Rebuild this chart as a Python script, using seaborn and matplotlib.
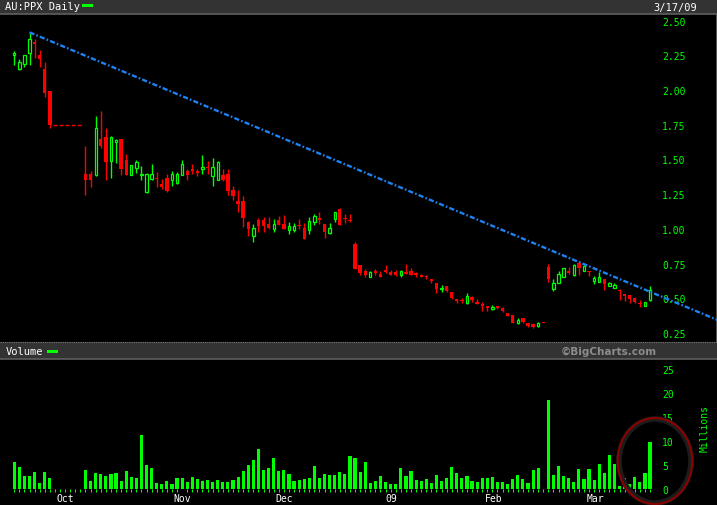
import numpy as np
import pandas as pd
import matplotlib
matplotlib.use("Agg")
import matplotlib.pyplot as plt
import seaborn as sns
from matplotlib.patches import Rectangle, Ellipse
from matplotlib.lines import Line2D

NaN = float("nan")

# ---------------- data ----------------
opens = [2.25, 2.15, 2.185, 2.27, 2.35, 2.25, 2.15, 1.99,
         NaN, NaN, NaN, NaN, NaN, NaN,
         1.395, 1.395, 1.39, 1.645, 1.66, 1.49, 1.625, 1.65, 1.495, 1.39,
         1.44, 1.385, 1.265, 1.36, 1.37, 1.32, 1.365, 1.35, 1.33, 1.39,
         1.42, 1.435, 1.41, 1.43, 1.445, 1.38, 1.355, 1.39, 1.395, 1.28,
         1.20, 1.20, 1.05, 0.95, 1.065, 1.065, 1.035, 1.00, 1.065, 1.035,
         0.995, 0.995, 1.03, 1.01, 0.995, 1.05, 1.08, 1.035, 0.97, 1.07,
         1.145, 1.08, 1.06, 0.89, 0.74, 0.70, 0.655, 0.69, 0.675, 0.705,
         0.69, 0.69, 0.67, 0.69, 0.70, 0.685, 0.665, 0.655, 0.64, 0.61,
         0.565, 0.59, 0.543, 0.495, 0.488, 0.467, 0.512, 0.476, 0.46, 0.437,
         0.425, 0.444, 0.432, 0.395, 0.38, 0.322, 0.358, 0.322, 0.317, 0.30,
         0.32, 0.728, 0.567, 0.61, 0.652, 0.695, 0.668, 0.752, 0.70, 0.697,
         0.628, 0.62, 0.64, 0.587, 0.573, 0.562, 0.526, 0.524, 0.50, 0.466,
         0.447, 0.49]
highs = [2.28, 2.225, 2.255, 2.41, 2.37, 2.29, 2.20, 1.995,
         NaN, NaN, NaN, NaN, NaN, NaN,
         1.60, 1.42, 1.81, 1.85, 1.73, 1.67, 1.645, 1.65, 1.54, 1.46,
         1.50, 1.455, 1.40, 1.47, 1.41, 1.36, 1.395, 1.42, 1.41, 1.495,
         1.43, 1.465, 1.43, 1.53, 1.49, 1.51, 1.49, 1.435, 1.43, 1.31,
         1.28, 1.235, 1.06, 1.035, 1.075, 1.085, 1.085, 1.07, 1.09, 1.10,
         1.05, 1.045, 1.07, 1.045, 1.085, 1.11, 1.12, 1.035, 1.045, 1.125,
         1.15, 1.11, 1.105, 0.905, 0.74, 0.71, 0.695, 0.71, 0.70, 0.74,
         0.705, 0.705, 0.705, 0.745, 0.72, 0.69, 0.675, 0.67, 0.64, 0.61,
         0.596, 0.59, 0.543, 0.495, 0.502, 0.538, 0.52, 0.495, 0.473, 0.437,
         0.452, 0.444, 0.44, 0.395, 0.38, 0.356, 0.358, 0.322, 0.322, 0.331,
         0.32, 0.747, 0.64, 0.697, 0.72, 0.723, 0.747, 0.764, 0.74, 0.697,
         0.658, 0.692, 0.64, 0.615, 0.608, 0.567, 0.526, 0.524, 0.507, 0.488,
         0.471, 0.591]
lows = [2.18, 2.145, 2.17, 2.18, 2.23, 2.17, 1.95, 1.725,
        NaN, NaN, NaN, NaN, NaN, NaN,
        1.245, 1.305, 1.38, 1.58, 1.35, 1.365, 1.475, 1.39, 1.39, 1.39,
        1.40, 1.35, 1.26, 1.35, 1.30, 1.29, 1.265, 1.31, 1.325, 1.385,
        1.35, 1.395, 1.38, 1.395, 1.395, 1.31, 1.355, 1.345, 1.245, 1.21,
        1.12, 1.015, 0.95, 0.905, 0.98, 0.98, 1.00, 0.975, 1.03, 1.00,
        0.965, 0.975, 1.00, 0.925, 0.965, 1.025, 1.035, 0.935, 0.96, 1.05,
        1.03, 1.045, 1.05, 0.71, 0.67, 0.65, 0.655, 0.67, 0.655, 0.685,
        0.67, 0.66, 0.655, 0.675, 0.67, 0.655, 0.65, 0.64, 0.61, 0.54,
        0.543, 0.543, 0.495, 0.466, 0.466, 0.457, 0.473, 0.459, 0.41, 0.41,
        0.416, 0.423, 0.40, 0.375, 0.323, 0.313, 0.323, 0.293, 0.284, 0.293,
        0.32, 0.62, 0.553, 0.61, 0.65, 0.675, 0.663, 0.67, 0.70, 0.658,
        0.60, 0.62, 0.562, 0.586, 0.572, 0.49, 0.483, 0.466, 0.466, 0.44,
        0.447, 0.483]
closes = [2.265, 2.20, 2.25, 2.37, 2.335, 2.225, 1.98, 1.745,
          NaN, NaN, NaN, NaN, NaN, NaN,
          1.355, 1.35, 1.725, 1.595, 1.48, 1.665, 1.64, 1.435, 1.39, 1.46,
          1.48, 1.395, 1.395, 1.395, 1.36, 1.30, 1.275, 1.395, 1.395, 1.465,
          1.39, 1.42, 1.405, 1.445, 1.44, 1.445, 1.485, 1.35, 1.275, 1.235,
          1.18, 1.08, 1.00, 1.005, 1.02, 1.02, 1.01, 1.035, 1.03, 1.00,
          1.02, 1.02, 1.02, 0.93, 1.055, 1.09, 1.065, 0.98, 1.005, 1.12,
          1.03, 1.07, 1.055, 0.71, 0.685, 0.67, 0.69, 0.685, 0.655, 0.69,
          0.67, 0.665, 0.695, 0.675, 0.67, 0.665, 0.65, 0.65, 0.627, 0.567,
          0.572, 0.555, 0.503, 0.477, 0.48, 0.517, 0.488, 0.46, 0.445, 0.433,
          0.44, 0.43, 0.405, 0.375, 0.325, 0.346, 0.328, 0.30, 0.295, 0.324,
          0.32, 0.64, 0.61, 0.675, 0.715, 0.683, 0.74, 0.718, 0.735, 0.688,
          0.646, 0.656, 0.603, 0.608, 0.596, 0.55, 0.52, 0.495, 0.471, 0.46,
          0.471, 0.56]
volumes = [5.6, 4.6, 2.7, 2.7, 3.5, 1.25, 3.5, 2.3,
           0, 0, 0, 0, 0, 0,
           4.0, 1.7, 3.3, 3.1, 2.7, 3.1, 3.3, 1.7, 3.75, 2.5,
           2.3, 11.25, 5.0, 4.4, 1.25, 1.05, 1.7, 1.05, 2.3, 2.3,
           1.45, 2.5, 2.1, 1.7, 1.9, 1.45, 1.9, 1.45, 1.45, 1.9,
           2.5, 3.75, 5.0, 6.0, 8.3, 4.0, 4.4, 6.5, 3.75, 4.0,
           3.1, 1.7, 1.9, 2.1, 2.3, 4.8, 2.3, 3.1, 2.9, 2.9,
           3.5, 3.1, 6.9, 6.5, 3.5, 5.6, 1.25, 1.7, 2.7, 1.45,
           1.0, 1.0, 4.4, 2.7, 3.75, 1.9, 1.7, 2.1, 1.25, 2.9,
           1.7, 2.3, 4.6, 3.3, 2.3, 2.7, 1.7, 1.45, 2.3, 2.3,
           2.5, 1.45, 1.45, 1.0, 2.1, 2.9, 2.1, 1.25, 4.0, 4.4,
           0, 18.5, 2.9, 4.8, 2.7, 2.3, 1.45, 4.2, 2.1, 4.2,
           1.9, 5.2, 3.3, 7.1, 5.2, 0.6, 2.3, 1.0, 2.5, 1.45,
           3.3, 9.8]

month_labels = ["Oct", "Nov", "Dec", "09", "Feb", "Mar"]
month_pos = [10.07, 33.0, 53.1, 74.1, 94.2, 114.3]
price_ticks = [0.25, 0.50, 0.75, 1.00, 1.25, 1.50, 1.75, 2.00, 2.25, 2.50]
volume_ticks = [0, 5, 10, 15, 20, 25]
trend_x = [3, 140]
trend_y = [2.416, 0.317]
title = "AU:PPX Daily"
last_date = "3/17/09"

# ---------------- style ----------------
GREEN = "#00ff00"
RED = "#ff0000"
BLUE = "#1e82f0"
W, H = 717, 506

sns.set_theme(style="dark", rc={"axes.facecolor": "black",
                                "figure.facecolor": "black",
                                "savefig.facecolor": "black"})
plt.rcParams["font.family"] = ["DejaVu Sans Mono", "DejaVu Sans"]

df = pd.DataFrame(dict(day=np.arange(len(opens)), open=opens, high=highs,
                       low=lows, close=closes, volume=volumes))

fig = plt.figure(figsize=(W / 100, H / 100), dpi=100)


def fy(ypix):
    return 1 - ypix / H


axp = fig.add_axes([0, fy(342), 1, (342 - 16) / H])
axv = fig.add_axes([0, fy(490), 1, (490 - 360) / H])

x_lo, x_hi = -2.81, 138.16

# ---------------- price panel ----------------
valid = df.dropna(subset=["open"])
up = valid[valid["close"] > valid["open"]]
dn = valid[valid["close"] <= valid["open"]]
MINH = 0.009

axp.vlines(up["day"], up["low"], up["high"], color=GREEN, lw=1.0, zorder=2)
axp.vlines(dn["day"], dn["low"], dn["high"], color=RED, lw=1.0, zorder=2)
axp.bar(up["day"], np.maximum(up["close"] - up["open"], MINH), bottom=up["open"],
        width=0.46, facecolor="black", edgecolor=GREEN, linewidth=0.9, zorder=3)
axp.bar(dn["day"], np.maximum(dn["open"] - dn["close"], MINH), bottom=dn["close"],
        width=0.66, color=RED, linewidth=0, zorder=3)

# trading halt: dashed at last close
halt = df[df["open"].isna()]["day"]
if len(halt):
    prev_close = df.loc[halt.min() - 1, "close"]
    axp.hlines(prev_close, halt.min() - 0.4, halt.max() + 0.4, colors=RED,
               lw=1.0, linestyles=(0, (2.9, 1.45)), zorder=2)

# trend line
sns.lineplot(x=trend_x, y=trend_y, ax=axp, color=BLUE, lw=1.7, zorder=4)
axp.get_lines()[-1].set_linestyle((0, (2.2, 0.9, 0.7, 0.9)))

axp.set_xlim(x_lo, x_hi)
axp.set_ylim(2.5 - (342 - 21.7) / 138.8, 2.5 + (21.7 - 16) / 138.8)
axp.set_xticks([])
axp.yaxis.tick_right()
axp.set_yticks(price_ticks)
axp.set_yticklabels([f"{t:.2f}" for t in price_ticks])
axp.tick_params(axis="y", length=0, pad=-(W - 662) * 0.72, labelsize=7,
                labelcolor=GREEN)
axp.grid(False)
for s in ["top", "bottom", "left"]:
    axp.spines[s].set_visible(False)
axp.spines["right"].set_color("#5a5a5a")
axp.spines["right"].set_linewidth(1.4)
axp.set_xlabel("")
axp.set_ylabel("")

# ---------------- volume panel ----------------
sns.barplot(data=df, x="day", y="volume", native_scale=True, color=GREEN,
            saturation=1, width=0.62, linewidth=0, errorbar=None, ax=axv)
axv.set_xlim(x_lo, x_hi)
axv.set_ylim(0, 130 / 4.8)
axv.yaxis.tick_right()
axv.set_yticks(volume_ticks)
axv.set_yticklabels([str(t) for t in volume_ticks])
axv.tick_params(axis="y", length=0, pad=-(W - 662) * 0.72, labelsize=7,
                labelcolor=GREEN)
axv.set_xticks(month_pos)
axv.set_xticklabels(month_labels)
axv.set_xticks(df["day"], minor=True)
axv.tick_params(axis="x", which="major", length=0, pad=3, labelsize=7,
                labelcolor="white")
axv.tick_params(axis="x", which="minor", length=2.2, width=0.72, color=GREEN,
                direction="out", bottom=True)
axv.grid(False)
for s in axv.spines.values():
    s.set_visible(False)
axv.set_xlabel("")
axv.set_ylabel("")

# ---------------- headers and decorations ----------------
for (y0, y1) in [(0, 15), (343, 360)]:
    fig.patches.append(Rectangle((0, fy(y1)), 1, (y1 - y0) / H,
                                 transform=fig.transFigure, facecolor="#333333",
                                 edgecolor="none", zorder=0))
    fig.lines.append(Line2D([0, 1], [fy(y1), fy(y1)], transform=fig.transFigure,
                            color="#5e5e5e", lw=1.2))
fig.lines.append(Line2D([0, 1], [fy(343), fy(343)], transform=fig.transFigure,
                        color="#7a7a7a", lw=0.8, linestyle=(0, (1, 1))))

fig.text(5 / W, fy(7.5), title, color="white", fontsize=7.5, va="center", ha="left")
fig.patches.append(Rectangle((82 / W, fy(8)), 11 / W, 3 / H, transform=fig.transFigure,
                             facecolor=GREEN, edgecolor="none"))
fig.text(697 / W, fy(7.5), last_date, color="white", fontsize=7.5, va="center", ha="right")

fig.text(6 / W, fy(352), "Volume", color="white", fontsize=7.5, va="center", ha="left")
fig.patches.append(Rectangle((47 / W, fy(354)), 11 / W, 3 / H, transform=fig.transFigure,
                             facecolor=GREEN, edgecolor="none"))
fig.text(609 / W, fy(352), "©BigCharts.com", color="#8c8c8c", fontsize=7.5,
         fontweight="bold", family="DejaVu Sans", va="center", ha="center")

fig.text(705 / W, fy(429), "Millions", color=GREEN, fontsize=7, rotation=90,
         va="center", ha="center")

fig.patches.append(Ellipse((655 / W, fy(462)), 72 / W, 84 / H, transform=fig.transFigure,
                           fill=False, edgecolor="#1c1c1c", lw=4, zorder=5))
fig.patches.append(Ellipse((655 / W, fy(462)), 74.6 / W, 86 / H, transform=fig.transFigure,
                           fill=False, edgecolor="#8b0000", lw=1.5, zorder=6))

fig.savefig("out.png", dpi=100, facecolor="black")
